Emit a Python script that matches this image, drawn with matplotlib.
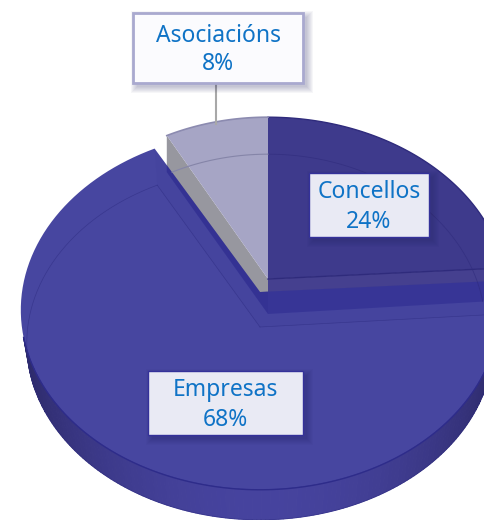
import numpy as np
import matplotlib
matplotlib.use("Agg")
import matplotlib.pyplot as plt
from matplotlib.patches import Rectangle

# clockwise from 12 o'clock
categories = ["Concellos", "Empresas", "Asociacións"]
values = [24, 68, 8]

TEXT_BLUE = "#0F73C6"
RX, RY, PERSP = 238, 178, 0.1


def project(theta, cx, cy, scale=1.0, depth=0.0):
    # circle in perspective, theta in radians clockwise from the far side
    u, v = np.sin(theta), np.cos(theta)
    w = 1 + PERSP * v
    x = cx + RX * scale * u / w
    y = cy - RY * v / w + depth * (33.5 + 3.5 * v)
    return x, y


def arc(t0, t1, cx, cy, scale=1.0, depth=0.0, n=120):
    return project(np.linspace(t0, t1, n), cx, cy, scale, depth)


def wedge(ax, t0, t1, cx, cy, scale=1.0, **kw):
    x, y = arc(t0, t1, cx, cy, scale)
    return ax.fill(np.r_[cx, x], np.r_[cy, y], **kw)[0]


def side_wall(ax, t, cx, cy, scale, scale_low, **kw):
    # flat cut face running from the apex to the rim
    x0, y0 = project(t, cx, cy, scale)
    x1, y1 = project(t, cx, cy, scale_low, 1.0)
    return ax.fill([cx, x0, x1, cx], [cy, y0, y1, cy + 35], **kw)[0]


def label(ax, name, val, x0, y0, x1, y1, face, edge, lw):
    for i in range(0, 7):
        ax.add_patch(Rectangle((x0 + 4 - i, y0 + 4 - i), x1 - x0 + 2 * i, y1 - y0 + 2 * i,
                               fc="#20205a", ec="none", alpha=0.04, zorder=8))
    ax.add_patch(Rectangle((x0, y0), x1 - x0, y1 - y0, fc=face, ec=edge, lw=lw, zorder=9))
    xc = (x0 + x1) / 2
    ym = (y0 + y1) / 2
    ax.text(xc, ym - 12.5, name, color=TEXT_BLUE, fontsize=16.5, ha="center", va="center",
            family="Noto Sans", zorder=10)
    ax.text(xc, ym + 16.5, f"{val}%", color=TEXT_BLUE, fontsize=16.5, ha="center", va="center",
            family="Noto Sans", zorder=10)


fig = plt.figure(figsize=(4.84, 5.2), dpi=100)
ax = fig.add_axes([0, 0, 1, 1])
ax.set_xlim(0, 484)
ax.set_ylim(520, 0)
ax.axis("off")

edges = 2 * np.pi * np.r_[0, np.cumsum(values)] / sum(values)
t_con = (edges[0], edges[1])
t_emp = (edges[1], edges[2])
t_aso = (edges[2], edges[3])

# back pieces: Concellos and Asociacións
bx, by = 268, 279
side_wall(ax, t_con[1], bx, by, 1.0, 0.91, color="#45408F", lw=0)
side_wall(ax, t_aso[0], bx, by, 0.96, 0.96, color="#97979F", lw=0)
wedge(ax, *t_con, bx, by, color="#3E3A8C", lw=0)
wedge(ax, *t_aso, bx, by, 0.96, color="#A6A5C5", lw=0)
x, y = arc(*t_con, bx, by, 0.91, 1.0)
ax.plot(x, y, color="#2F2B7C", lw=0.6, alpha=0.6)
x, y = arc(*t_aso, bx, by, 0.91, 1.0)
ax.plot(x, y, color="#8585A8", lw=0.8)
x, y = arc(*t_con, bx, by)
ax.plot(x, y, color="#2F2B7C", lw=1)
x, y = arc(*t_aso, bx, by, 0.96)
ax.plot(x, y, color="#8C8BB0", lw=1.2)
xe, ye = project(t_con[1], bx, by)
ax.plot([bx, xe], [by, ye], color="#2F2B7C", lw=1)

# outer wall of Empresas, front part only, shaded segment by segment
fx, fy = 260, 292
ts = np.linspace(np.pi * 0.55, np.pi * 1.42, 160)
for t0, t1 in zip(ts[:-1], ts[1:]):
    xa, ya = project(np.array([t0, t1]), fx, fy)
    xb, yb = project(np.array([t1, t0]), fx, fy, 0.975, 1.0)
    shade = abs(np.sin((t0 + t1) / 2)) ** 2
    col = np.array([70, 67, 158]) * (1 - shade) + np.array([44, 41, 104]) * shade
    ax.fill(np.r_[xa, xb], np.r_[ya, yb], color=col / 255, lw=0.8)

# Empresas top face is slightly see through
emp_top = wedge(ax, *t_emp, fx, fy, color="#373698", alpha=0.92, lw=0)
side_wall(ax, t_emp[0], fx, fy, 1.0, 0.975, color="#2F2C8E", alpha=0.06, lw=0)
side_wall(ax, t_emp[1], fx, fy, 1.0, 0.975, color="#2F2C8E", alpha=0.06, lw=0)
# the Asociacións wall shows through as a dark band along the cut
band = side_wall(ax, t_aso[0], bx, by, 0.96, 0.96, color="#2A2890", alpha=0.45, lw=0)
band.set_clip_path(emp_top)
x, y = arc(*t_emp, fx, fy, 0.975, 1.0)
ax.plot(x, y, color="#2D2B80", lw=0.5, alpha=0.55)
for t in (t_emp[0], t_emp[1]):
    x0, y0 = project(t, fx, fy, 0.975, 1.0)
    ax.plot([fx, x0], [fy + 35, y0], color="#2D2B80", lw=0.5, alpha=0.55)
# front rim only: dark where it meets the wall
x, y = arc(np.pi * 0.62, np.pi * 1.42, fx, fy)
ax.plot(x, y, color="#2E2C8A", lw=1)

# leader line from Asociacións box down to its slice
ax.plot([216, 216], [83, 124], color="#A8A8A8", lw=1.5, zorder=5)

label(ax, categories[2], values[2], 133, 13, 303, 83, "#FBFBFE", "#A9A9CF", 2)
label(ax, categories[0], values[0], 309, 173, 429, 237, "#E9EAF4", "#34319A", 1)
label(ax, categories[1], values[1], 148, 371, 303, 435, "#E9EAF4", "#34319A", 1)

fig.savefig("out.png", dpi=100)
